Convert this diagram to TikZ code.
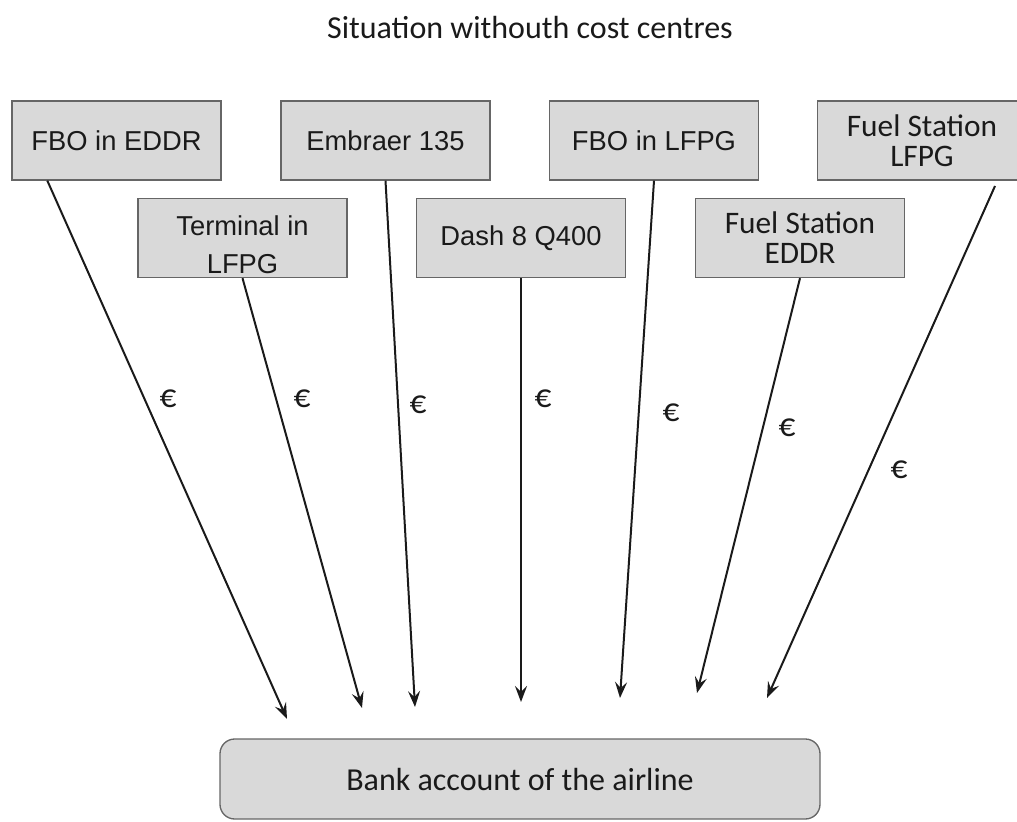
\documentclass[tikz,border=0pt]{standalone}
\usepackage{fontspec}
\setmainfont{Liberation Sans}
\newfontfamily\calibri{Carlito}
\usepackage{tikz}
\usetikzlibrary{positioning}
\usetikzlibrary{arrows.meta}
\definecolor{boxgray}{HTML}{D9D9D9}
\definecolor{boxline}{HTML}{666666}
\definecolor{ink}{HTML}{1A1A1A}

\begin{document}
\begin{tikzpicture}[x=0.75pt, y=-0.75pt, every node/.style={inner sep=0pt, text=ink},
	costbox/.style={draw=boxline, fill=boxgray, line width=1pt, rectangle, minimum width=156.75pt, minimum height=59.25pt, align=center, font=\fontsize{20.5}{31}\selectfont},
	fuelbox/.style={costbox, font=\calibri\fontsize{23.5}{22.5}\selectfont},
	money/.style={font=\calibri\fontsize{25}{28}\selectfont},
	pay/.style={draw=ink, line width=1.5pt, -{Stealth[length=12pt, width=9pt, inset=4.5pt]}}]
	\useasboundingbox (0,0) rectangle (1017,821);
	\node[font=\calibri\fontsize{24}{28}\selectfont](title) at (530,28) {Situation withouth cost centres};
	\node[costbox](fboEDDR) at (116.5,140.5) {FBO in EDDR};
	\node[costbox](embraer) at (385.5,140.5) {Embraer 135};
	\node[costbox](fboLFPG) at (654,140.5) {FBO in LFPG};
	\node[fuelbox](fuelLFPG) at (922,140.5) {Fuel Station\\LFPG};
	\node[costbox](terminal) at (242.5,238) {\raisebox{-5pt}[\height][\depth]{\shortstack{Terminal in\\[11pt]LFPG}}};
	\node[costbox](dash) at (521,238) {Dash 8 Q400};
	\node[fuelbox](fuelEDDR) at (800,238) {Fuel Station\\EDDR};
	\node[draw=boxline, fill=boxgray, line width=1pt, rounded corners=11pt, minimum width=450pt, minimum height=60pt, font=\calibri\fontsize{24}{28}\selectfont](bank) at (520,779) {Bank account of the airline};
	% arrow tips stop short of the bank box
	\coordinate (tip1) at (287,719);
	\coordinate (tip2) at (362,708);
	\coordinate (tip3) at (415,707);
	\coordinate (tip4) at (521,702);
	\coordinate (tip5) at (620,698);
	\coordinate (tip6) at (697,693);
	\coordinate (tip7) at (767,698);
	\draw[pay] ([xshift=27pt]fboEDDR.south west) -- (tip1);
	\draw[pay] (terminal.south) -- (tip2);
	\draw[pay] (embraer.south) -- (tip3);
	\draw[pay] (dash.south) -- (tip4);
	\draw[pay] (fboLFPG.south) -- (tip5);
	\draw[pay] (fuelEDDR.south) -- (tip6);
	\draw[pay] ([xshift=54.75pt, yshift=-4pt]fuelLFPG.south) -- (tip7);
	\node[money](euro1) at (168,399) {€};
	\node[money](euro2) at (302,399) {€};
	\node[money](euro3) at (418,405) {€};
	\node[money](euro4) at (543,399) {€};
	\node[money](euro5) at (671,413) {€};
	\node[money](euro6) at (787,428) {€};
	\node[money](euro7) at (899,470) {€};
\end{tikzpicture}
\end{document}
